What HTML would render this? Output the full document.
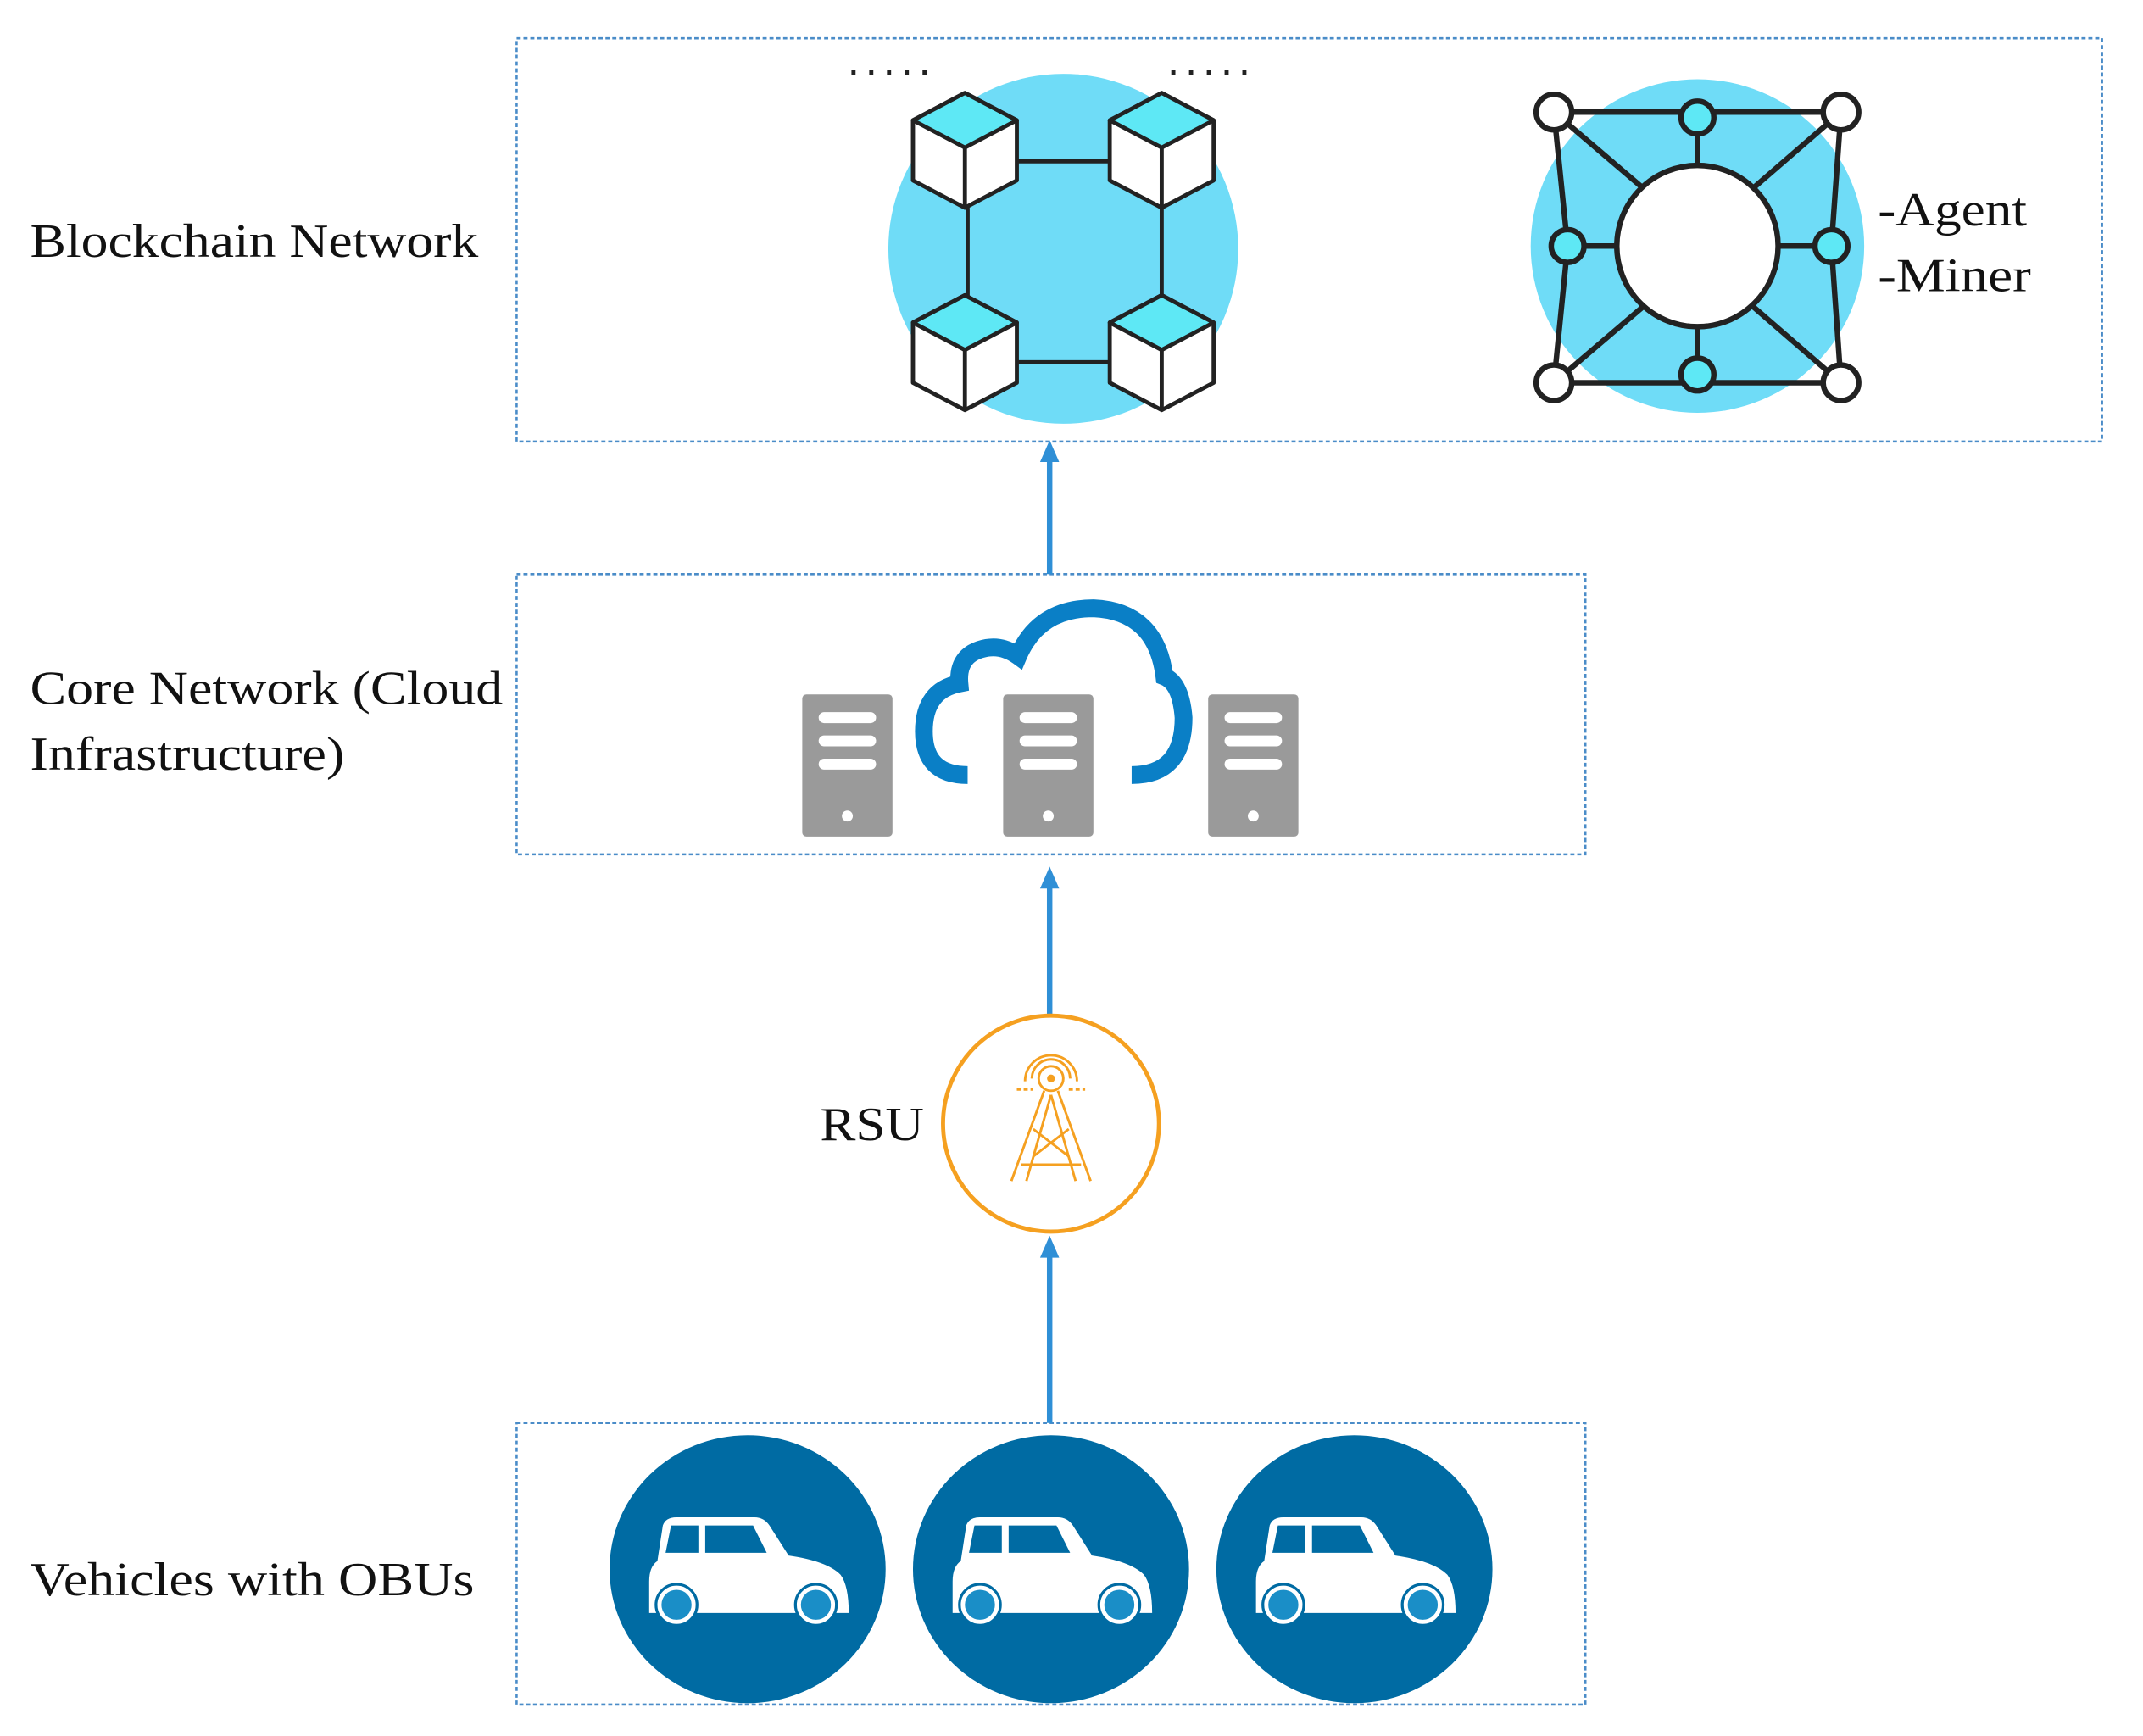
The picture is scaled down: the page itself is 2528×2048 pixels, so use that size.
<!DOCTYPE html>
<html><head><meta charset="utf-8"><style>
html,body{margin:0;padding:0;background:#fff;}
svg{display:block;}
text{font-family:"Liberation Serif",serif;fill:#111;}
</style></head><body>
<svg width="2528" height="2048" viewBox="0 0 1568 1270" preserveAspectRatio="none" xmlns="http://www.w3.org/2000/svg">
<defs>
<g id="cube">
<polygon points="0,-42 38,-22 38,22 0,42 -38,22 -38,-22" fill="#fff" stroke="#222" stroke-width="3" stroke-linejoin="round"/>
<polygon points="0,-42 38,-22 0,-2 -38,-22" fill="#5ee8f5" stroke="#222" stroke-width="3" stroke-linejoin="round"/>
<line x1="0" y1="-2" x2="0" y2="42" stroke="#222" stroke-width="3"/>
</g>
<g id="server">
<rect x="0" y="0" width="66" height="104" rx="3" fill="#9a9a9a"/>
<rect x="12" y="13" width="42" height="8" rx="4" fill="#fff"/>
<rect x="12" y="30" width="42" height="8" rx="4" fill="#fff"/>
<rect x="12" y="47" width="42" height="8" rx="4" fill="#fff"/>
<circle cx="33" cy="89" r="4" fill="#fff"/>
</g>
<g id="car">
<path d="M-72,28 L-72,5 Q-72,-6 -66,-10 L-62,-36 Q-60,-42 -52,-42 L5,-42 Q12,-42 16,-36 L30,-14 Q58,-10 68,0 Q74,8 74,28 Z" fill="#fff"/>
<path d="M-56,-36 L-36,-36 L-36,-16 L-60,-16 Z" fill="#006ba3"/>
<path d="M-31,-36 L4,-36 L14,-16 L-31,-16 Z" fill="#006ba3"/>
<circle cx="-52" cy="22" r="15" fill="#fff" stroke="#006ba3" stroke-width="2"/>
<circle cx="-52" cy="22" r="11" fill="#1a8ec7"/>
<circle cx="50" cy="22" r="15" fill="#fff" stroke="#006ba3" stroke-width="2"/>
<circle cx="50" cy="22" r="11" fill="#1a8ec7"/>
</g>
</defs>

<g fill="none" stroke="#4a8cc8" stroke-width="1.6" stroke-dasharray="3,2">
<rect x="378" y="28" width="1160" height="295"/>
<rect x="378" y="420" width="782" height="205"/>
<rect x="378" y="1041" width="782" height="206"/>
</g>

<g font-size="35">
<text x="22" y="188" textLength="328" lengthAdjust="spacingAndGlyphs">Blockchain Network</text>
<text x="22" y="515" textLength="346" lengthAdjust="spacingAndGlyphs">Core Network (Cloud</text>
<text x="22" y="563" textLength="230" lengthAdjust="spacingAndGlyphs">Infrastructure)</text>
<text x="22" y="1167" textLength="325" lengthAdjust="spacingAndGlyphs">Vehicles with OBUs</text>
<text x="600" y="834" textLength="76" lengthAdjust="spacingAndGlyphs">RSU</text>
<text x="1374" y="165" textLength="109" lengthAdjust="spacingAndGlyphs">-Agent</text>
<text x="1374" y="213" textLength="112" lengthAdjust="spacingAndGlyphs">-Miner</text>
</g>

<g stroke="#2f8fd6" stroke-width="4" fill="#2f8fd6">
<line x1="768" y1="420" x2="768" y2="336"/>
<polygon points="768,322 761,338 775,338" stroke="none"/>
<line x1="768" y1="742" x2="768" y2="648"/>
<polygon points="768,634 761,650 775,650" stroke="none"/>
<line x1="768" y1="1041" x2="768" y2="918"/>
<polygon points="768,904 761,920 775,920" stroke="none"/>
</g>

<circle cx="778" cy="182" r="128" fill="#6fdcf7"/>
<g stroke="#222" stroke-width="3">
<line x1="726" y1="118" x2="832" y2="118"/>
<line x1="726" y1="265" x2="832" y2="265"/>
<line x1="708" y1="152" x2="708" y2="218"/>
<line x1="850" y1="152" x2="850" y2="218"/>
</g>
<use href="#cube" x="706" y="110"/>
<use href="#cube" x="850" y="110"/>
<use href="#cube" x="706" y="258"/>
<use href="#cube" x="850" y="258"/>
<g fill="#222">
<rect x="623" y="51" width="3" height="4"/><rect x="636" y="51" width="3" height="4"/><rect x="649" y="51" width="3" height="4"/><rect x="662" y="51" width="3" height="4"/><rect x="675" y="51" width="3" height="4"/>
<rect x="857" y="51" width="3" height="4"/><rect x="870" y="51" width="3" height="4"/><rect x="883" y="51" width="3" height="4"/><rect x="896" y="51" width="3" height="4"/><rect x="909" y="51" width="3" height="4"/>
</g>

<circle cx="1242" cy="180" r="122" fill="#6fdcf7"/>
<g stroke="#222" stroke-width="4" fill="none">
<line x1="1137" y1="82" x2="1347" y2="82"/>
<line x1="1137" y1="280" x2="1347" y2="280"/>
<line x1="1137" y1="82" x2="1147" y2="180"/>
<line x1="1147" y1="180" x2="1137" y2="280"/>
<line x1="1347" y1="82" x2="1340" y2="180"/>
<line x1="1340" y1="180" x2="1347" y2="280"/>
<line x1="1137" y1="82" x2="1205" y2="140"/>
<line x1="1347" y1="82" x2="1280" y2="140"/>
<line x1="1137" y1="280" x2="1205" y2="222"/>
<line x1="1347" y1="280" x2="1280" y2="222"/>
<line x1="1242" y1="86" x2="1242" y2="125"/>
<line x1="1242" y1="274" x2="1242" y2="237"/>
<line x1="1147" y1="180" x2="1185" y2="180"/>
<line x1="1340" y1="180" x2="1300" y2="180"/>
</g>
<circle cx="1242" cy="180" r="59" fill="#fff" stroke="#222" stroke-width="4"/>
<g stroke="#222" stroke-width="4">
<circle cx="1137" cy="82" r="13" fill="#fff"/>
<circle cx="1347" cy="82" r="13" fill="#fff"/>
<circle cx="1137" cy="280" r="13" fill="#fff"/>
<circle cx="1347" cy="280" r="13" fill="#fff"/>
<circle cx="1242" cy="86" r="12" fill="#5ee8f5"/>
<circle cx="1242" cy="274" r="12" fill="#5ee8f5"/>
<circle cx="1147" cy="180" r="12" fill="#5ee8f5"/>
<circle cx="1340" cy="180" r="12" fill="#5ee8f5"/>
</g>

<path d="M708,567 Q676,567 676,535 Q676,505 702,500 Q700,478 722,474 Q734,472 745,480 Q760,445 800,445 Q846,447 852,495 Q864,500 866,525 Q866,567 828,567" fill="none" stroke="#0a7fc6" stroke-width="13"/>
<use href="#server" x="587" y="508"/>
<use href="#server" x="734" y="508"/>
<use href="#server" x="884" y="508"/>

<circle cx="769" cy="822" r="79" fill="#fff" stroke="#f5a020" stroke-width="3"/>
<g stroke="#f5a020" stroke-width="1.8" fill="none">
<circle cx="769" cy="789" r="9"/>
<circle cx="769" cy="789" r="2" fill="#f5a020"/>
<path d="M755,789 A14,14 0 0,1 783,789"/>
<path d="M750,791 A19,19 0 0,1 788,791"/>
<path d="M744,797 h12 M782,797 h12" stroke-dasharray="3,2"/>
<path d="M764,798 L740,864 M774,798 L798,864 M769,801 L751,864 M769,801 L787,864"/>
<path d="M756,826 L782,846 M782,826 L756,846 M747,852 H791"/>
</g>

<g fill="#006ba3">
<ellipse cx="547" cy="1148" rx="101" ry="98"/>
<ellipse cx="769" cy="1148" rx="101" ry="98"/>
<ellipse cx="991" cy="1148" rx="101" ry="98"/>
</g>
<use href="#car" x="547" y="1152"/>
<use href="#car" x="769" y="1152"/>
<use href="#car" x="991" y="1152"/>
</svg>
</body></html>
